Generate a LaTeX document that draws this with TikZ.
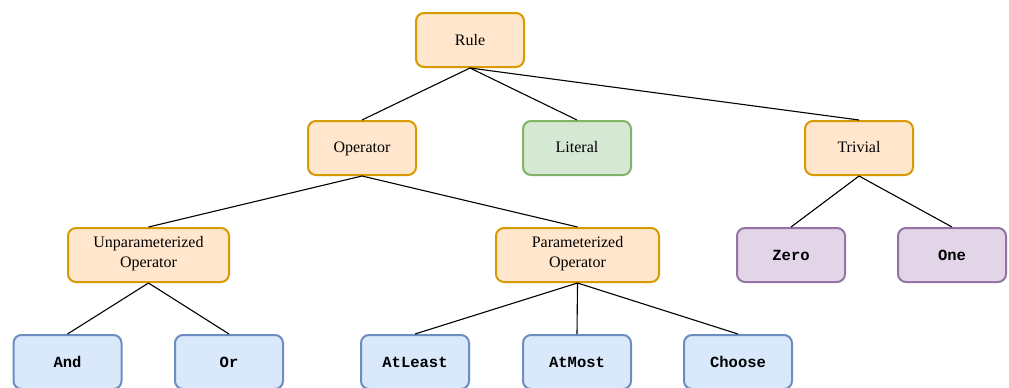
\documentclass[tikz,border=0pt]{standalone}
\usepackage{fontspec}
\setmainfont{Liberation Serif}
\setmonofont{Liberation Mono}
\definecolor{orfill}{HTML}{FFE6CC}\definecolor{ordraw}{HTML}{D79B00}
\definecolor{grfill}{HTML}{D5E8D4}\definecolor{grdraw}{HTML}{82B366}
\definecolor{blfill}{HTML}{DAE8FC}\definecolor{bldraw}{HTML}{6C8EBF}
\definecolor{pufill}{HTML}{E1D5E7}\definecolor{pudraw}{HTML}{9673A6}
\tikzset{
  box/.style={rectangle, rounded corners=8pt, line width=2pt, minimum height=54pt, minimum width=108pt, align=center, inner sep=0pt, font=\fontsize{16}{20}\selectfont},
  orbox/.style={box, fill=orfill, draw=ordraw},
  grbox/.style={box, fill=grfill, draw=grdraw},
  blbox/.style={box, fill=blfill, draw=bldraw, font=\fontsize{15.5}{19}\selectfont\ttfamily\bfseries},
  pubox/.style={box, fill=pufill, draw=pudraw, font=\fontsize{15.5}{19}\selectfont\ttfamily\bfseries},
  edge/.style={draw=black, line width=1.1pt}
}
\begin{document}
\begin{tikzpicture}[x=1pt,y=-1pt]
\useasboundingbox (0,0) rectangle (1009,388);
\node[orbox] (rule) at (470,40) {Rule};
\node[orbox] (op) at (362,148) {\strut Operator};
\node[grbox] (lit) at (577,148) {\strut Literal};
\node[orbox] (triv) at (859,148) {\strut Trivial};
\node[orbox, minimum width=161pt] (unp) at (148.5,255) {Unparameterized\\Operator\strut};
\node[orbox, minimum width=163pt] (par) at (577.5,255) {Parameterized\\Operator\strut};
\node[pubox] (zero) at (791,255) {Zero};
\node[pubox] (one) at (952,255) {One};
\node[blbox] (and) at (67.5,362) {And};
\node[blbox] (or) at (229,362) {Or};
\node[blbox] (atl) at (415,362) {AtLeast};
\node[blbox] (atm) at (577,362) {AtMost};
\node[blbox] (cho) at (738,362) {Choose};
\draw[edge] (rule.south) -- (op.north);
\draw[edge] (rule.south) -- (lit.north);
\draw[edge] (rule.south) -- (triv.north);
\draw[edge] (op.south) -- (unp.north);
\draw[edge] (op.south) -- (par.north);
\draw[edge] (triv.south) -- (zero.north);
\draw[edge] (triv.south) -- (one.north);
\draw[edge] (unp.south) -- (and.north);
\draw[edge] (unp.south) -- (or.north);
\draw[edge] (par.south) -- (atl.north);
\draw[edge] (par.south) -- (atm.north);
\draw[edge] (par.south) -- (cho.north);
\end{tikzpicture}
\end{document}
